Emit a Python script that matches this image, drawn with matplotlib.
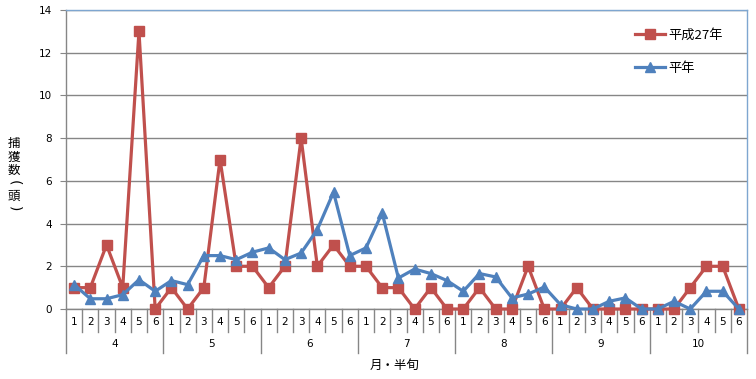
import matplotlib
matplotlib.use('Agg')
import matplotlib.pyplot as plt
import matplotlib.transforms as mtrans

plt.rcParams['font.family'] = ['DejaVu Sans', 'Noto Sans CJK JP']

months = ['4', '5', '6', '7', '8', '9', '10']
halves = ['1', '2', '3', '4', '5', '6']
h27 = [1, 1, 3, 1, 13, 0,
       1, 0, 1, 7, 2, 2,
       1, 2, 8, 2, 3, 2,
       2, 1, 1, 0, 1, 0,
       0, 1, 0, 0, 2, 0,
       0, 1, 0, 0, 0, 0,
       0, 0, 1, 2, 2, 0]
heinen = [1.14, 0.48, 0.48, 0.67, 1.37, 0.83,
          1.33, 1.14, 2.5, 2.5, 2.31, 2.66,
          2.86, 2.31, 2.62, 3.72, 5.47, 2.5,
          2.86, 4.5, 1.45, 1.87, 1.66, 1.33,
          0.83, 1.66, 1.5, 0.52, 0.7, 1.03,
          0.2, 0.0, 0.0, 0.36, 0.52, 0.0,
          0.0, 0.36, 0.0, 0.83, 0.83, 0.0]
ylabel_chars = ['捕', '獲', '数', '(', '頭', ')']

red = '#C0504D'
blue = '#4F81BD'
grid = '#868686'
jp = ['Noto Sans CJK JP', 'DejaVu Sans']

fig = plt.figure(figsize=(7.56, 3.79), dpi=100)
ax = fig.add_axes([66/756, 1-309/379, 681/756, 299/379])
n = len(h27)
x = list(range(n))

ax.plot(x, h27, color=red, lw=2.3, marker='s', ms=6.5, label='平成27年', clip_on=False, zorder=3)
ax.plot(x, heinen, color=blue, lw=2.3, marker='^', ms=7, label='平年', clip_on=False, zorder=4)

ax.set_xlim(-0.5, n - 0.5)
ax.set_ylim(0, 14)
ax.set_yticks(range(0, 15, 2))
ax.tick_params(axis='y', length=4, color=grid, labelsize=7.5, pad=6)
ax.set_xticks([])
ax.yaxis.grid(True, color=grid, lw=1)
ax.set_axisbelow(True)
for s in ['top', 'right']:
    ax.spines[s].set_color('#7EA6D0')
    ax.spines[s].set_linewidth(1)
for s in ['left', 'bottom']:
    ax.spines[s].set_color(grid)
    ax.spines[s].set_linewidth(1)

# multi-level category axis
tr = mtrans.blended_transform_factory(ax.transData, ax.transAxes)
for i in range(n):
    ax.text(i, -13 / 299, halves[i % 6], transform=tr, ha='center', va='center', fontsize=7.5)
for b in range(n + 1):
    depth = -44 / 299 if b % 6 == 0 else -23 / 299
    ax.plot([b - 0.5, b - 0.5], [0, depth], transform=tr, color=grid, lw=1, clip_on=False)
for m, name in enumerate(months):
    ax.text(m * 6 + 2.5, -35 / 299, name, transform=tr, ha='center', va='center', fontsize=7.5)

fig.text(395 / 756, 1 - 365 / 379, '月・半旬', ha='center', va='center', fontsize=9, family=jp)

# stacked vertical y label
for k, ch in enumerate(ylabel_chars):
    if ch in '()':
        fig.text(14 / 756, 1 - (144 + 13 * k) / 379, ch, ha='center', va='center', fontsize=10,
                 rotation=-90, family='DejaVu Sans')
    else:
        fig.text(14 / 756, 1 - (144 + 13 * k) / 379, ch, ha='center', va='center', fontsize=9,
                 family=jp)

leg = ax.legend(loc='upper left', bbox_to_anchor=(557 / 681, 1 - 7 / 299), frameon=False,
                handlelength=2.3, labelspacing=1.5, handletextpad=0.2,
                prop={'family': jp, 'size': 9.5})

fig.savefig('out.png', dpi=100)
